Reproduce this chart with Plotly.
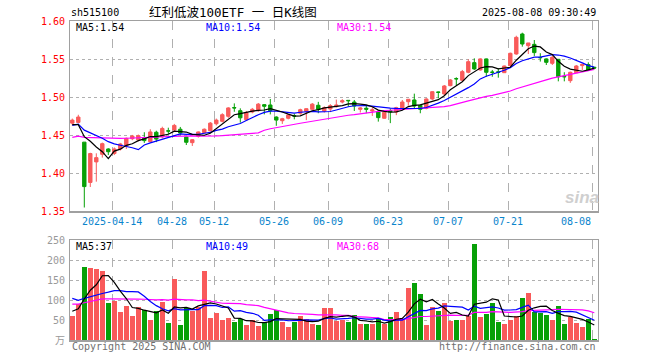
import plotly.graph_objects as go
import pandas as pd

# ---------------- data ----------------
dates = (
    ["04-02", "04-03", "04-07", "04-08", "04-09", "04-10", "04-11", "04-14", "04-15", "04-16",
     "04-17", "04-18", "04-21", "04-22", "04-23", "04-24", "04-25", "04-28", "04-29", "04-30"]
    + ["05-06", "05-07", "05-08", "05-09", "05-12", "05-13", "05-14", "05-15", "05-16", "05-19",
       "05-20", "05-21", "05-22", "05-23", "05-26", "05-27", "05-28", "05-29", "05-30"]
    + ["06-03", "06-04", "06-05", "06-06", "06-09", "06-10", "06-11", "06-12", "06-13", "06-16",
       "06-17", "06-18", "06-19", "06-20", "06-23", "06-24", "06-25", "06-26", "06-27", "06-30"]
    + ["07-01", "07-02", "07-03", "07-04", "07-07", "07-08", "07-09", "07-10", "07-11", "07-14",
       "07-15", "07-16", "07-17", "07-18", "07-21", "07-22", "07-23", "07-24", "07-25", "07-28",
       "07-29", "07-30", "07-31"]
    + ["08-01", "08-04", "08-05", "08-06", "08-07", "08-08"]
)

opens = [1.466, 1.467, 1.441, 1.388, 1.415, 1.425, 1.432, 1.426, 1.432, 1.436,
         1.4455, 1.444, 1.4468, 1.4416, 1.454, 1.448, 1.456, 1.457, 1.458, 1.4477,
         1.4403, 1.4487, 1.4535, 1.456, 1.4652, 1.4684, 1.475, 1.4865, 1.4824, 1.4705,
         1.4807, 1.4825, 1.4903, 1.4899, 1.474, 1.4692, 1.4724, 1.4756, 1.479, 1.4816,
         1.4842, 1.4895, 1.4819, 1.4846, 1.4877, 1.4938, 1.496, 1.4938, 1.4842, 1.4856,
         1.482, 1.4807, 1.4724, 1.4824, 1.4807, 1.4859, 1.4942, 1.4965, 1.4895, 1.4855,
         1.4978, 1.507, 1.5044, 1.5153, 1.5246, 1.5224, 1.5329, 1.5456, 1.536, 1.5505,
         1.5332, 1.5335, 1.5324, 1.5417, 1.557, 1.5833, 1.5679, 1.5697, 1.5524, 1.5505,
         1.5447, 1.550, 1.5275, 1.5219, 1.5324, 1.5417, 1.543, 1.5395]
highs = [1.472, 1.477, 1.441, 1.427, 1.4263, 1.4404, 1.433, 1.434, 1.440, 1.447,
         1.4505, 1.451, 1.454, 1.458, 1.456, 1.4613, 1.460, 1.465, 1.461, 1.448,
         1.445, 1.455, 1.459, 1.4675, 1.472, 1.479, 1.487, 1.492, 1.4855, 1.482,
         1.486, 1.4925, 1.491, 1.4978, 1.475, 1.473, 1.4775, 1.4785, 1.485, 1.4855,
         1.4925, 1.494, 1.488, 1.491, 1.497, 1.4975, 1.496, 1.4965, 1.487, 1.4885,
         1.487, 1.483, 1.4805, 1.4852, 1.4875, 1.4965, 1.4975, 1.5048, 1.4895, 1.4987,
         1.508, 1.5074, 1.5162, 1.524, 1.5263, 1.536, 1.550, 1.5513, 1.5513, 1.551,
         1.536, 1.538, 1.5417, 1.5588, 1.581, 1.585, 1.5715, 1.5754, 1.558, 1.5513,
         1.5545, 1.550, 1.533, 1.5338, 1.5425, 1.5438, 1.546, 1.5395]
lows = [1.463, 1.466, 1.355, 1.382, 1.389, 1.4206, 1.424, 1.424, 1.430, 1.432,
        1.4435, 1.442, 1.440, 1.441, 1.441, 1.446, 1.4513, 1.455, 1.450, 1.4372,
        1.436, 1.447, 1.4525, 1.455, 1.463, 1.467, 1.473, 1.481, 1.4666, 1.470,
        1.479, 1.481, 1.4775, 1.4775, 1.4625, 1.465, 1.471, 1.471, 1.477, 1.470,
        1.4835, 1.479, 1.480, 1.4805, 1.4865, 1.492, 1.4875, 1.482, 1.480, 1.479,
        1.4755, 1.468, 1.472, 1.466, 1.4765, 1.485, 1.489, 1.4855, 1.479, 1.4842,
        1.4965, 1.4987, 1.5026, 1.5145, 1.5158, 1.5215, 1.5316, 1.536, 1.535, 1.527,
        1.527, 1.5258, 1.532, 1.5404, 1.556, 1.5666, 1.557, 1.5544, 1.547, 1.5425,
        1.5425, 1.521, 1.521, 1.519, 1.532, 1.536, 1.535, 1.537]
closes = [1.470, 1.474, 1.3825, 1.426, 1.4206, 1.439, 1.4284, 1.432, 1.4386, 1.446,
          1.449, 1.4495, 1.443, 1.4544, 1.445, 1.459, 1.4555, 1.463, 1.453, 1.4408,
          1.4442, 1.4544, 1.458, 1.466, 1.470, 1.4771, 1.486, 1.486, 1.473, 1.480,
          1.4842, 1.491, 1.4882, 1.4824, 1.470, 1.4718, 1.4767, 1.4754, 1.4837, 1.485,
          1.491, 1.4842, 1.4863, 1.489, 1.4899, 1.4955, 1.4955, 1.4885, 1.486, 1.4843,
          1.4835, 1.4732, 1.4803, 1.4811, 1.4863, 1.4938, 1.4974, 1.4885, 1.4842, 1.4978,
          1.5074, 1.5065, 1.5149, 1.5228, 1.5243, 1.5338, 1.5469, 1.5373, 1.5505, 1.5329,
          1.5329, 1.533, 1.5412, 1.5579, 1.5789, 1.5701, 1.5715, 1.5588, 1.5521, 1.546,
          1.5526, 1.5271, 1.527, 1.5329, 1.5412, 1.5434, 1.536, 1.5385]
volumes = [60, 90, 182.5, 180, 177.5, 173, 92.5, 98, 70, 85,
           60, 82.5, 75, 50, 73, 95, 42.5, 152.5, 37.5, 81,
           72.5, 82.5, 172.5, 55, 67.5, 50, 56, 45, 52.5, 37.5,
           49, 35, 44, 65, 75, 46, 32.5, 45, 60, 52.5,
           40, 37.5, 80, 81, 48, 50, 45, 62.5, 40, 40,
           40, 52, 40, 57, 70, 52, 130, 142.5, 115, 37.5,
           82.5, 72.5, 92.5, 47.5, 50, 50, 60, 240, 57.5, 65,
           92.5, 45, 40, 50, 60, 105, 117.5, 70, 67.5, 62.5,
           50, 85, 40, 57.5, 42.5, 32.5, 52, 2.5]

# closes / volumes of the 29 sessions before the first visible day (only feed the moving averages)
pre_closes = [1.427, 1.431, 1.435, 1.433, 1.437, 1.440, 1.436, 1.439, 1.442, 1.445,
              1.441, 1.438, 1.435, 1.439, 1.443, 1.447, 1.444, 1.441, 1.445, 1.448,
              1.458, 1.462, 1.460, 1.465, 1.466, 1.474, 1.4615, 1.4565, 1.458]
pre_volumes = [80, 85, 90, 75, 80, 85, 90, 80, 75, 85,
               80, 90, 85, 80, 75, 85, 80, 90, 80, 75,
               140, 130, 135, 140, 135, 60, 60, 70, 110]

tick_dates = ["04-14", "04-28", "05-12", "05-26", "06-09", "06-23", "07-07", "07-21", "08-08"]
tick_labels = ["2025-04-14", "04-28", "05-12", "05-26", "06-09", "06-23", "07-07", "07-21", "08-08"]
price_ticks = [1.35, 1.40, 1.45, 1.50, 1.55, 1.60]
vol_ticks = [0, 50, 100, 150, 200, 250]
vol_tick_text = ["万", "50", "100", "150", "200", "250"]

title_code = "sh515100"
title_name = "红利低波100ETF 一 日K线图"
timestamp = "2025-08-08 09:30:49"
price_ma_text = ["MA5:1.54", "MA10:1.54", "MA30:1.54"]
vol_ma_text = ["MA5:37", "MA10:49", "MA30:68"]

# ---------------- derived ----------------
n = len(dates)
xs = list(range(n))
npre = len(pre_closes)
allc = pd.Series(pre_closes + closes)
allv = pd.Series(pre_volumes + volumes)
ma = {w: allc.rolling(w).mean().iloc[npre:].tolist() for w in (5, 10, 30)}
vma = {w: allv.rolling(w).mean().iloc[npre:].tolist() for w in (5, 10, 30)}

RED = "#F95A5A"
GREEN = "#07A007"
MA_COLORS = {5: "#000000", 10: "#0000FF", 30: "#FF00FF"}
GRID = "#B0B0B0"
BORDER = "#A0A0A0"
MONO = "DejaVu Sans Mono, Noto Sans CJK SC"

W, H = 660, 360
X0, X1 = 70, 597.5
PY0, PY1 = 21.3, 211.3   # pixel rows of 1.60 and 1.35
VY0, VY1 = 240, 340      # pixel rows of 250 and 0

def px(x):
    return x / W

def py(y):
    return 1 - y / H

vol_colors = [RED if c >= o else GREEN for o, c in zip(opens, closes)]
grid_x = [dates.index(d) - 0.33 for d in tick_dates]
xrange_ = [(X0 - 72.3) / 6, (X1 - 72.3) / 6]

fig = go.Figure()

fig.add_trace(go.Candlestick(
    x=xs, open=opens, high=highs, low=lows, close=closes,
    increasing=dict(line=dict(color=RED, width=1), fillcolor=RED),
    decreasing=dict(line=dict(color=GREEN, width=1), fillcolor=GREEN),
    whiskerwidth=0, xaxis="x", yaxis="y", showlegend=False, hoverinfo="skip",
))
for w in (30, 10, 5):
    fig.add_trace(go.Scatter(x=xs, y=ma[w], mode="lines", line=dict(color=MA_COLORS[w], width=1.2),
                             xaxis="x", yaxis="y", showlegend=False, hoverinfo="skip"))

fig.add_trace(go.Bar(x=xs, y=volumes, marker=dict(color=vol_colors, line=dict(width=0)), width=0.74,
                     xaxis="x2", yaxis="y2", showlegend=False, hoverinfo="skip"))
for w in (30, 10, 5):
    fig.add_trace(go.Scatter(x=xs, y=vma[w], mode="lines", line=dict(color=MA_COLORS[w], width=1.2),
                             xaxis="x2", yaxis="y2", showlegend=False, hoverinfo="skip"))

xaxis_common = dict(
    range=xrange_, domain=[px(X0), px(X1)], tickvals=grid_x, showticklabels=False, ticks="",
    showgrid=True, gridcolor=GRID, griddash="dash", gridwidth=1, zeroline=False,
    showline=True, mirror=True, linecolor=BORDER, linewidth=1.5, fixedrange=True,
)

fig.update_layout(
    width=W, height=H, autosize=False,
    margin=dict(l=0, r=0, t=0, b=0),
    paper_bgcolor="white", plot_bgcolor="white",
    hovermode=False, boxgap=0.25, boxgroupgap=0.25, bargap=0,
    xaxis=dict(**xaxis_common, anchor="y", rangeslider=dict(visible=False)),
    xaxis2=dict(**xaxis_common, anchor="y2", matches="x"),
    yaxis=dict(range=[1.35, 1.60], domain=[py(PY1), py(PY0)], tickvals=price_ticks, showticklabels=False,
               showgrid=True, gridcolor=GRID, griddash="dot", zeroline=False, ticks="",
               showline=True, mirror=True, linecolor=BORDER, linewidth=1.5, anchor="x"),
    yaxis2=dict(range=[0, 250], domain=[py(VY1), py(VY0)], tickvals=vol_ticks, showticklabels=False,
                showgrid=True, gridcolor=GRID, griddash="dot", zeroline=False, ticks="",
                showline=True, mirror=True, linecolor=BORDER, linewidth=1.5, anchor="x2"),
    font=dict(family=MONO, size=10, color="#000000"),
)

ann = []
def text(x, y, s, color="#000000", size=10, xanchor="left", xref="paper", yref="paper"):
    ann.append(dict(x=x, y=y, xref=xref, yref=yref, text=s, showarrow=False, xanchor=xanchor,
                    yanchor="middle", font=dict(family=MONO, size=size, color=color)))

# header
text(px(69), py(12.7), title_code)
text(px(232.5), py(12.5), title_name, size=12.5, xanchor="center")
text(px(597.5), py(12.7), timestamp, xanchor="right")

# price y labels
for v in price_ticks:
    text(px(66.5), v, f"{v:.2f}", color="#FF0000", xanchor="right", yref="y")
# volume y labels
for v, s in zip(vol_ticks, vol_tick_text):
    text(px(66.5), v, s, color="#999999", xanchor="right", yref="y2")

# date labels
for i, (gx, s) in enumerate(zip(grid_x, tick_labels)):
    last = i == len(grid_x) - 1
    text(gx + (0.1 if last else 0), py(221), s, color="#0A84CC",
         xanchor="right" if last else "center", xref="x")

# MA legends
ma_x = [74, 204, 334.5]
for (x, s, w) in zip(ma_x, price_ma_text, (5, 10, 30)):
    text(px(x), py(27.8), s, color=MA_COLORS[w])
for (x, s, w) in zip(ma_x, vol_ma_text, (5, 10, 30)):
    text(px(x), py(246.5), s, color=MA_COLORS[w])

# footer
text(px(69.5), py(346.5), "Copyright 2025 SINA.COM", color="#707070")
text(px(597.5), py(346.5), "http://finance.sina.com.cn", color="#707070", xanchor="right")

# watermark
ann.append(dict(x=px(582), y=py(197), xref="paper", yref="paper", text="<b><i>sina</i></b>",
                showarrow=False, xanchor="center", yanchor="middle",
                font=dict(family="Liberation Sans", size=17, color="#CFCFCF")))

fig.update_layout(annotations=ann)
# place the figure flush with the window corner (remove the browser's default body margin)
fig.write_html("out.html", config={"displayModeBar": False, "staticPlot": True},
               post_script="document.body.style.margin='0px';")
